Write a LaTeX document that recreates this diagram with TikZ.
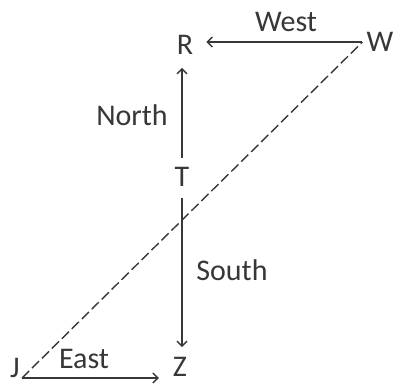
\documentclass[tikz,border=0pt]{standalone}
\usepackage{fontspec}
\setmainfont{Carlito}
\usetikzlibrary{arrows.meta}
\definecolor{ink}{RGB}{55,55,55}
\tikzset{
  lbl/.style={inner sep=0pt, text=ink, font=\fontsize{30}{32}\selectfont},
  pt/.style={inner sep=0pt, text=ink, font=\fontsize{30}{32}\selectfont},
  arr/.style={draw=ink, line width=1.6pt, -{Straight Barb[length=5pt,width=10pt,line width=1.4pt]}},
  dash line/.style={draw=ink, line width=1.4pt, dash pattern=on 10pt off 4pt}
}
\begin{document}
\begin{tikzpicture}[x=1pt,y=-1pt]
\useasboundingbox (0,0) rectangle (393,385);
\node[pt] (R) at (185,45) {R};
\node[pt] (W) at (380,42) {W};
\node[pt] (T) at (182,177) {T};
\node[pt] (Z) at (180,367) {Z};
\node[pt] (J) at (15,368) {J};
\node[lbl] (west) at (286,22) {West};
\node[lbl] (north) at (132,115) {North};
\node[lbl] (south) at (232,270) {South};
\node[lbl] (east) at (84,359) {East};
\coordinate (Wend) at ([xshift=-4pt]W.west);
\coordinate (Jend) at (22,378);
\draw[arr] (Wend) -- ([xshift=13pt]R.east |- Wend);
\draw[arr] ([yshift=9pt]T.north) -- ([yshift=-13pt]R.south -| T.north);
\draw[arr] ([yshift=-11pt]T.south) -- ([yshift=10pt]Z.north -| T.south);
\draw[arr] (Jend) -- ([xshift=-14pt]Z.west |- Jend);
\draw[dash line] (Jend) -- (Wend);
\end{tikzpicture}
\end{document}
